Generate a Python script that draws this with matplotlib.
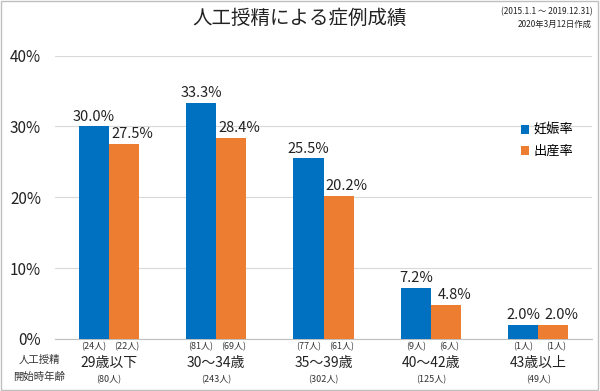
import matplotlib.pyplot as plt
import numpy as np

plt.rcParams['font.family'] = ['Noto Sans CJK JP', 'DejaVu Sans']

# === データ ===
categories = ["29歳以下", "30～34歳", "35～39歳", "40～42歳", "43歳以上"]
totals = [80, 243, 302, 125, 49]
pregnancy_rate = [30.0, 33.3, 25.5, 7.2, 2.0]
birth_rate = [27.5, 28.4, 20.2, 4.8, 2.0]
pregnancy_n = [24, 81, 77, 9, 1]
birth_n = [22, 69, 61, 6, 1]
yticks = [0, 10, 20, 30, 40]

blue = "#0070C0"
orange = "#ED7D31"

fig = plt.figure(figsize=(6, 3.91), dpi=100)
ax = fig.add_axes([0.0917, 0.133, 0.895, 0.725])

x = np.arange(len(categories))
w = 0.28
ax.bar(x - w / 2, pregnancy_rate, w, color=blue, label="妊娠率", zorder=3)
ax.bar(x + w / 2, birth_rate, w, color=orange, label="出産率", zorder=3)

# 値ラベル
for i in range(len(x)):
    ax.annotate(f"{pregnancy_rate[i]:.1f}%", (x[i] - w / 2, pregnancy_rate[i]),
                xytext=(0, 2), textcoords="offset points", ha="center", va="bottom",
                fontsize=10.5, color="#222222")
    ax.annotate(f"{birth_rate[i]:.1f}%", (x[i] + w / 2, birth_rate[i]),
                xytext=(6, 2), textcoords="offset points", ha="center", va="bottom",
                fontsize=10.5, color="#222222")
    # 人数
    ax.annotate(f"({pregnancy_n[i]}人)", (x[i] - w / 2, 0), xytext=(0, -2),
                textcoords="offset points", ha="center", va="top", fontsize=6.5, color="#333333")
    ax.annotate(f"({birth_n[i]}人)", (x[i] + w / 2, 0), xytext=(2, -2),
                textcoords="offset points", ha="center", va="top", fontsize=6.5, color="#333333")
    ax.annotate(categories[i], (x[i], 0), xytext=(0, -12),
                textcoords="offset points", ha="center", va="top", fontsize=10, color="#222222")
    ax.annotate(f"({totals[i]}人)", (x[i], 0), xytext=(0, -26),
                textcoords="offset points", ha="center", va="top", fontsize=6.5, color="#333333")

ax.set_xlim(-0.5, len(categories) - 0.5)
ax.set_ylim(0, 40)
ax.set_yticks(yticks)
ax.set_yticklabels([f"{t}%" for t in yticks], fontsize=11, color="#222222")
ax.set_xticks([])
ax.tick_params(axis="y", length=0, pad=10)
ax.grid(axis="y", color="#D9D9D9", linewidth=0.8, zorder=0)
for s in ["left", "right", "top"]:
    ax.spines[s].set_visible(False)
ax.spines["bottom"].set_color("#BFBFBF")

# 左下ラベル
fig.text(0.065, 0.079, "人工授精", ha="center", va="center", fontsize=7.5, color="#333333")
fig.text(0.065, 0.036, "開始時年齢", ha="center", va="center", fontsize=7.5, color="#333333")

# タイトル
fig.text(0.5, 0.953, "人工授精による症例成績", ha="center", va="center", fontsize=14, color="#222222")
fig.text(0.987, 0.970, "(2015.1.1 ～ 2019.12.31)", ha="right", va="center", fontsize=6, color="#222222")
fig.text(0.987, 0.937, "2020年3月12日作成", ha="right", va="center", fontsize=6, color="#222222")

ax.legend(loc="upper left", bbox_to_anchor=(0.845, 0.80), frameon=False, fontsize=9.5,
          handlelength=0.6, handleheight=0.6, handletextpad=0.4, labelspacing=0.6)

# 外枠
fig.patches.append(plt.Rectangle((0.002, 0.003), 0.995, 0.994, transform=fig.transFigure,
                                 fill=False, edgecolor="#BFBFBF", linewidth=1))

plt.savefig("out.png", dpi=100)
